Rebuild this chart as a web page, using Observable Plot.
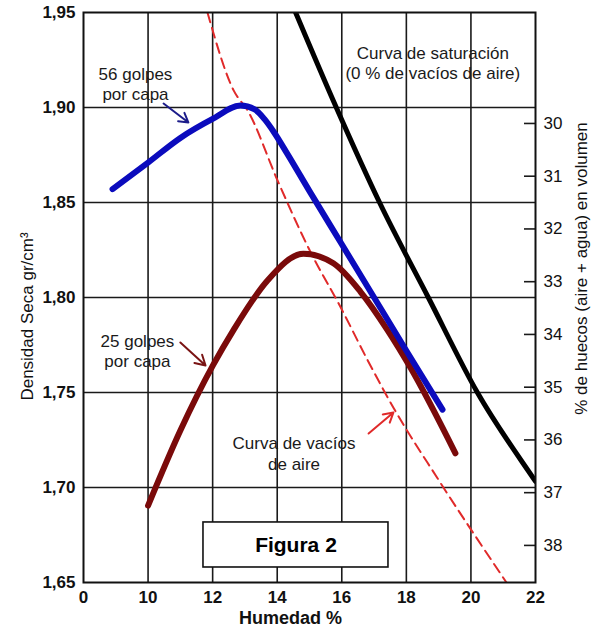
<!DOCTYPE html>
<html><head><meta charset="utf-8">
<script src="https://cdn.jsdelivr.net/npm/d3@7"></script>
<script src="https://cdn.jsdelivr.net/npm/@observablehq/plot@0.6"></script>
<style>
body{margin:0;background:#fff;}
#chart{width:597px;height:632px;}
</style></head><body><div id="chart"></div>
<script>
// ---- axis ticks ----
const xTicks = [8, 10, 12, 14, 16, 18, 20, 22];
const xTickLabels = ["0", "10", "12", "14", "16", "18", "20", "22"];
const yTicks = [1.65, 1.70, 1.75, 1.80, 1.85, 1.90, 1.95];
const huecosTicks = [30, 31, 32, 33, 34, 35, 36, 37, 38];
// secondary axis: % huecos
const densAt30 = 1.8916;
const densPerHueco = 0.02776;

// ---- curves (Humedad %, Densidad seca) ----
const moist56 = [8.9, 10.0, 11.0, 12.0, 12.86, 13.3, 13.6, 13.9, 14.3, 15.0, 16.0, 17.0, 18.0, 19.12];
const dens56  = [1.857, 1.871, 1.884, 1.894, 1.901, 1.899, 1.894, 1.887, 1.876, 1.856, 1.828, 1.800, 1.772, 1.741];

const moist25 = [10.0, 11.0, 12.0, 12.65, 13.7, 14.81, 15.74, 16.58, 17.41, 18.13, 19.52];
const dens25  = [1.6905, 1.730, 1.764, 1.783, 1.809, 1.823, 1.818, 1.803, 1.783, 1.763, 1.718];

const moistVac = [11.84, 12.65, 13.1, 14.0, 15.03, 15.96, 16.8, 17.6, 18.96, 21.1];
const densVac  = [1.95, 1.909, 1.898, 1.862, 1.824, 1.795, 1.767, 1.742, 1.705, 1.65];

const moistSat = [14.57, 15.83, 17.17, 18.68, 20.2, 21.94, 22.0];
const densSat  = [1.95, 1.90, 1.85, 1.80, 1.75, 1.7047, 1.7032];

// ---- annotations (data units) ----
const labels = [
  {text: "Curva de saturación\n(0 % de vacíos de aire)", x: 18.82, y: 1.9237},
  {text: "56 golpes\npor capa", x: 9.61, y: 1.9126},
  {text: "25 golpes\npor capa", x: 9.67, y: 1.7721},
  {text: "Curva de vacíos\nde aire", x: 14.52, y: 1.7182}
];
const arrows = [
  {x1: 10.48, y1: 1.9021, x2: 11.25, y2: 1.8921, c: "#1c1c8a"},
  {x1: 11.00, y1: 1.7763, x2: 11.78, y2: 1.7642, c: "#7a1414"},
  {x1: 16.83, y1: 1.7284, x2: 17.60, y2: 1.7395, c: "#e02a2a"}
];
const figBox = [{x1: 11.716, x2: 17.446, y1: 1.6579, y2: 1.6816, text: "Figura 2"}];

const zip = (xs, ys) => xs.map((x, i) => ({h: x, d: ys[i]}));
const toDens = v => densAt30 - (v - 30) * densPerHueco;
const fromDens = d => Math.round(30 + (densAt30 - d) / densPerHueco);

const font = "'Liberation Sans', Arial, sans-serif";

const chart = Plot.plot({
  width: 597, height: 632,
  marginLeft: 83, marginRight: 62, marginTop: 12, marginBottom: 50,
  style: {fontFamily: font, background: "#fff", color: "#111", overflow: "visible"},
  x: {domain: [8, 22]},
  y: {domain: [1.65, 1.95]},
  marks: [
    Plot.gridX(xTicks.slice(1, -1), {stroke: "#1a1a1a", strokeOpacity: 1, strokeWidth: 1.6}),
    Plot.gridY(yTicks.slice(1, -1), {stroke: "#1a1a1a", strokeOpacity: 1, strokeWidth: 1.6}),
    Plot.tickY(huecosTicks.map(toDens), {y: d => d, stroke: "#1a1a1a", strokeWidth: 1.6, insetLeft: 441}),
    Plot.text(labels, {x: "x", y: "y", text: "text", fontSize: 17, lineHeight: 1.2, fill: "#1a1a1a", ariaLabel: "anno"}),
    Plot.rect(figBox, {x1: "x1", x2: "x2", y1: "y1", y2: "y2", fill: "#fff", stroke: "#111", strokeWidth: 1.6}),
    Plot.text(figBox, {x: d => (d.x1 + d.x2) / 2, y: d => (d.y1 + d.y2) / 2, text: "text", fontSize: 21, fontWeight: "bold", fill: "#000"}),
    Plot.line(zip(moistVac, densVac), {x: "h", y: "d", stroke: "#e02a2a", strokeWidth: 2, strokeDasharray: "10,6", curve: "monotone-x", clip: true}),
    Plot.line(zip(moistSat, densSat), {x: "h", y: "d", stroke: "#000", strokeWidth: 5, curve: "monotone-x", clip: true}),
    Plot.line(zip(moist25, dens25), {x: "h", y: "d", stroke: "#7a0a0a", strokeWidth: 6, strokeLinecap: "round", curve: "monotone-x"}),
    Plot.line(zip(moist56, dens56), {x: "h", y: "d", stroke: "#0b0bbd", strokeWidth: 6, strokeLinecap: "round", curve: "monotone-x"}),
    Plot.arrow(arrows, {x1: "x1", y1: "y1", x2: "x2", y2: "y2", stroke: "c", strokeWidth: 2, headLength: 9}),
    Plot.frame({stroke: "#111", strokeWidth: 2}),
    Plot.axisX(xTicks, {tickSize: 0, tickPadding: 8, tickFormat: d => xTickLabels[xTicks.indexOf(d)], fontSize: 17, fontWeight: "bold", label: null}),
    Plot.axisY(yTicks, {anchor: "left", tickSize: 0, tickPadding: 8, tickFormat: d => d.toFixed(2).replace(".", ","), fontSize: 17, fontWeight: "bold", label: null}),
    Plot.axisY(huecosTicks.map(toDens), {anchor: "right", tickSize: 0, tickPadding: 8, tickFormat: d => String(fromDens(d)), fontSize: 17, label: null}),
    Plot.text(["Humedad %"], {frameAnchor: "bottom", lineAnchor: "middle", textAnchor: "middle", dx: -19, dy: 36, fontSize: 18, fontWeight: "bold", fill: "#111"}),
    Plot.text(["Densidad Seca gr/cm³"], {frameAnchor: "left", lineAnchor: "middle", textAnchor: "middle", dx: -56, dy: 19, rotate: -90, fontSize: 17, fill: "#111"}),
    Plot.text(["% de huecos (aire + agua) en volumen"], {frameAnchor: "right", lineAnchor: "middle", textAnchor: "middle", dx: 46, dy: -29, rotate: -90, fontSize: 17, fill: "#111"})
  ]
});

document.getElementById("chart").appendChild(chart);

// white boxes behind the annotation texts (interrupting the grid, as in the figure)
d3.select(chart).selectAll('g[aria-label="anno"] text').each(function() {
  const b = this.getBBox();
  const padX = 5, padY = 1;
  d3.select(this.parentNode).insert("rect", () => this)
    .attr("transform", this.getAttribute("transform"))
    .attr("x", b.x - padX).attr("y", b.y - padY)
    .attr("width", b.width + 2 * padX).attr("height", b.height + 2 * padY)
    .attr("fill", "#fff").attr("stroke", "none");
});
</script>
</body></html>
